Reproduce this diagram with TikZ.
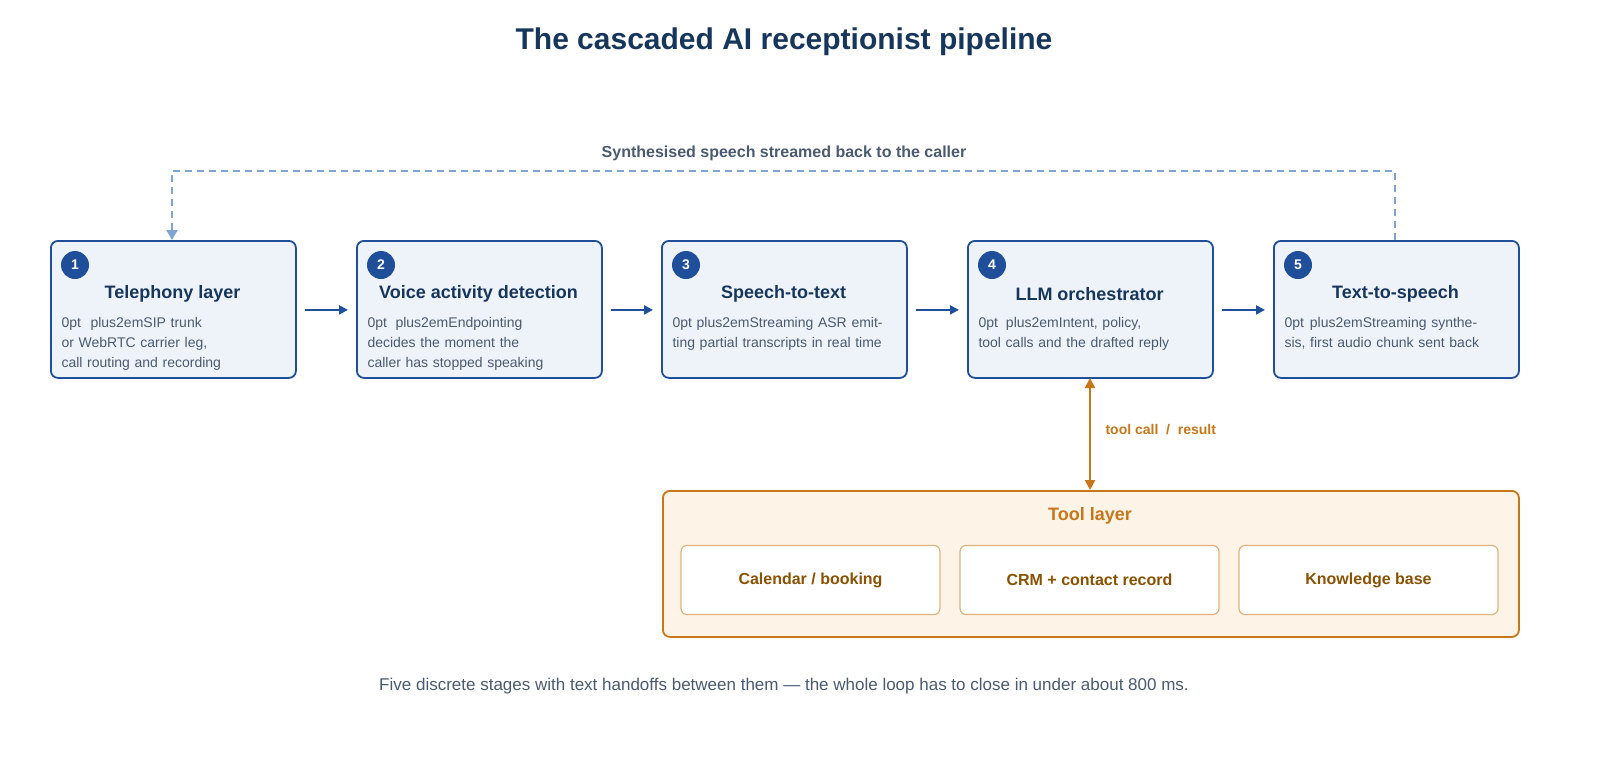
\documentclass[tikz,border=0pt]{standalone}
\usepackage{fontspec}
\setmainfont{Liberation Sans}
\usetikzlibrary{arrows.meta}
\definecolor{bfill}{HTML}{EEF3FA}
\definecolor{bdraw}{HTML}{1F4E9A}
\definecolor{ttl}{HTML}{16365C}
\definecolor{body}{HTML}{4A5A70}
\definecolor{dashcol}{HTML}{7FA6D0}
\definecolor{org}{HTML}{C8761A}
\definecolor{ofill}{HTML}{FDF3E7}
\definecolor{oin}{HTML}{E2B27E}
\definecolor{otxt}{HTML}{8A5200}
\begin{document}
\begin{tikzpicture}[x=1pt,y=-1pt,
 stage/.style={draw=bdraw,fill=bfill,line width=1.8pt,rounded corners=7pt,minimum width=245pt,minimum height=137pt},
 num/.style={circle,fill=bdraw,text=white,font=\bfseries\fontsize{14}{14}\selectfont,minimum size=28pt,inner sep=0pt},
 sttl/.style={text=ttl,font=\bfseries\fontsize{18}{20}\selectfont},
 sbody/.style={text=body,font=\fontsize{14}{20}\selectfont\hyphenpenalty=10000\exhyphenpenalty=10000,align=center,text width=222pt},
 flow/.style={-{Triangle[length=9pt,width=9pt]},draw=bdraw,line width=2pt},
 tool/.style={draw=oin,fill=white,line width=1.2pt,rounded corners=6pt,minimum width=259pt,minimum height=69pt,text=otxt,font=\bfseries\fontsize{16}{18}\selectfont}]
\useasboundingbox (0,0) rectangle (1600,780);
\node[text=ttl,font=\bfseries\fontsize{30}{32}\selectfont] (title) at (784,42) {The cascaded AI receptionist pipeline};
\foreach \i/\x/\t/\b in {
 1/50/Telephony layer/{SIP trunk or WebRTC carrier leg, call routing and recording},
 2/356/Voice activity detection/{Endpointing decides the moment the caller has stopped speaking},
 3/661/Speech-to-text/{Streaming ASR emitting partial transcripts in real time},
 4/967/LLM orchestrator/{Intent, policy, tool calls and the drafted reply},
 5/1273/Text-to-speech/{Streaming synthesis, first audio chunk sent back}}{
 \node[stage,anchor=north west] (s\i) at (\x,240) {};
 \node[num] (n\i) at (\x+25,265) {\i};
 \node[sttl] (t\i) at (\x+122.5,294) {\t};
 \node[sbody,anchor=north] (b\i) at (\x+122.5,314) {\b};
}
\foreach \a/\b in {1/2,2/3,3/4,4/5}{
 \draw[flow] ([xshift=8pt,yshift=-0.5pt]s\a.east) -- ([xshift=-8pt,yshift=-0.5pt]s\b.west);
}
\coordinate (c1) at (1395,171);
\coordinate (c2) at (172,171);
\draw[dashcol,line width=2pt,dash pattern=on 7pt off 5pt,-{Triangle[length=10pt,width=11pt]}] (s5.north -| c1) -- (c1) -- (c2) -- (s1.north -| c2);
\node[text=body,font=\bfseries\fontsize{16}{18}\selectfont] (fb) at (784,153) {Synthesised speech streamed back to the caller};
\node[draw=org,fill=ofill,line width=1.8pt,rounded corners=7pt,minimum width=856pt,minimum height=146pt,anchor=north west] (tl) at (662,490) {};
\node[text=org,font=\bfseries\fontsize{18}{20}\selectfont] (tlt) at (1090,516) {Tool layer};
\draw[org,line width=2pt,{Triangle[length=10pt,width=10pt]}-{Triangle[length=10pt,width=10pt]}] (1090,378) -- (tl.north -| 1090,0);
\node[text=org,font=\bfseries\fontsize{14}{16}\selectfont,anchor=west] (tc) at (1102,430) {tool call \ / \ result};
\node[tool] (k1) at (810.5,580) {Calendar / booking};
\node[tool] (k2) at (1089.5,580) {CRM + contact record};
\node[tool] (k3) at (1368.5,580) {Knowledge base};
\node[text=body,font=\fontsize{17}{20}\selectfont] (foot) at (784,686) {Five discrete stages with text handoffs between them — the whole loop has to close in under about 800 ms.};
\end{tikzpicture}
\end{document}
